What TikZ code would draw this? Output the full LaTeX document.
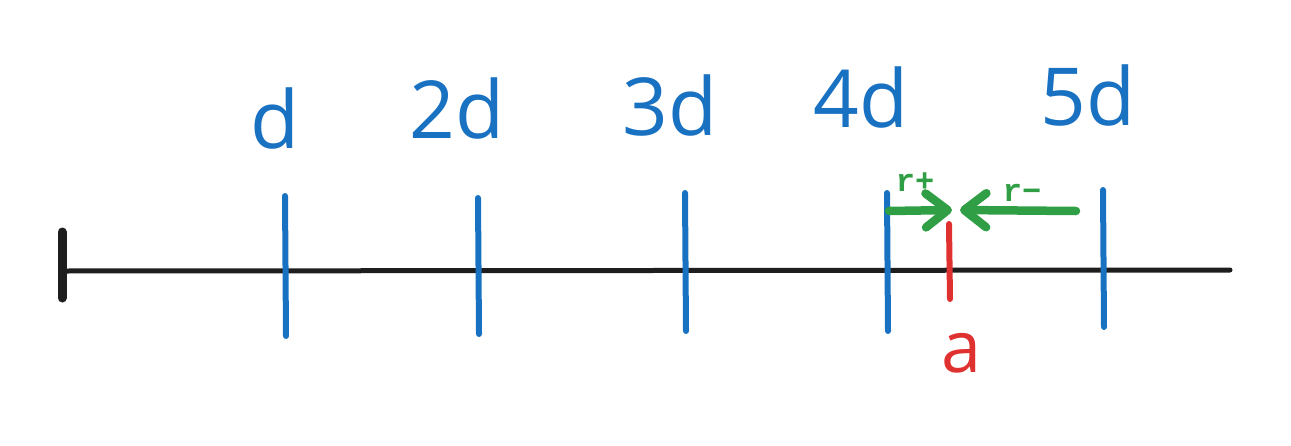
\documentclass[tikz,border=0pt]{standalone}
\usepackage{fontspec}
\setmainfont{Open Sans}
\newfontfamily\monofont{Liberation Mono}[BoldFont={Liberation Mono Bold}]
\usetikzlibrary{arrows.meta}
\definecolor{exblue}{HTML}{1971C2}
\definecolor{exgreen}{HTML}{2F9E44}
\definecolor{exred}{HTML}{E03131}
\definecolor{exblack}{HTML}{1E1E1E}
\tikzset{
  axisline/.style={draw=exblack, line width=5pt, line cap=round},
  endtick/.style={draw=exblack, line width=9pt, line cap=round},
  bluetick/.style={draw=exblue, line width=6pt, line cap=round},
  redtick/.style={draw=exred, line width=6pt, line cap=round},
  greenarrow/.style={draw=exgreen, line width=8.5pt, line cap=round,
    -{Straight Barb[length=22pt,width=34pt,line cap=round,line join=round]}},
  bluelabel/.style={text=exblue, font=\fontsize{80pt}{80pt}\selectfont, anchor=base, inner sep=0pt},
  redlabel/.style={text=exred, font=\fontsize{72pt}{72pt}\selectfont, anchor=base, inner sep=0pt},
  greenlabel/.style={text=exgreen, font=\monofont\bfseries\fontsize{32pt}{32pt}\selectfont, anchor=base, inner sep=0pt}
}
\begin{document}
\begin{tikzpicture}[x=1pt,y=-1pt]
\useasboundingbox (0,0) rectangle (1291,445);
% axis
\coordinate (L) at (62,271);
\coordinate (R) at (1230,270);
\draw[axisline] (L) -- (R);
\coordinate (Lt) at (62,232);
\coordinate (Lb) at (62,298);
\draw[endtick] (Lt) -- (Lb);
% blue ticks
\coordinate (t1a) at (285,196); \coordinate (t1b) at (286,336);
\coordinate (t2a) at (478,198); \coordinate (t2b) at (479,334);
\coordinate (t3a) at (685,193); \coordinate (t3b) at (686,331);
\coordinate (t4a) at (887,193); \coordinate (t4b) at (888,331);
\coordinate (t5a) at (1103,190); \coordinate (t5b) at (1104,327);
\draw[bluetick] (t1a) -- (t1b);
\draw[bluetick] (t2a) -- (t2b);
\draw[bluetick] (t3a) -- (t3b);
\draw[bluetick] (t4a) -- (t4b);
\draw[bluetick] (t5a) -- (t5b);
% red tick
\coordinate (ra) at (949,224); \coordinate (rb) at (950,299);
\draw[redtick] (ra) -- (rb);
% labels
\node[bluelabel] (l1) at (275,148) {d};
\node[bluelabel] (l2) at (457,138) {2d};
\node[bluelabel] (l3) at (670,135) {3d};
\node[bluelabel] (l4) at (861,127) {4d};
\node[bluelabel] (l5) at (1088,125) {5d};
\node[redlabel] (la) at (962,372) {a};
% green arrows
\coordinate (g1s) at (889,211); \coordinate (g1e) at (952,210);
\coordinate (g2s) at (1076,211); \coordinate (g2e) at (960,210);
\draw[greenarrow] (g1s) -- (g1e);
\draw[greenarrow] (g2s) -- (g2e);
\node[greenlabel] (rp) at (915,191) {r+};
\node[greenlabel] (rm) at (1022,201) {r−};
\end{tikzpicture}
\end{document}
